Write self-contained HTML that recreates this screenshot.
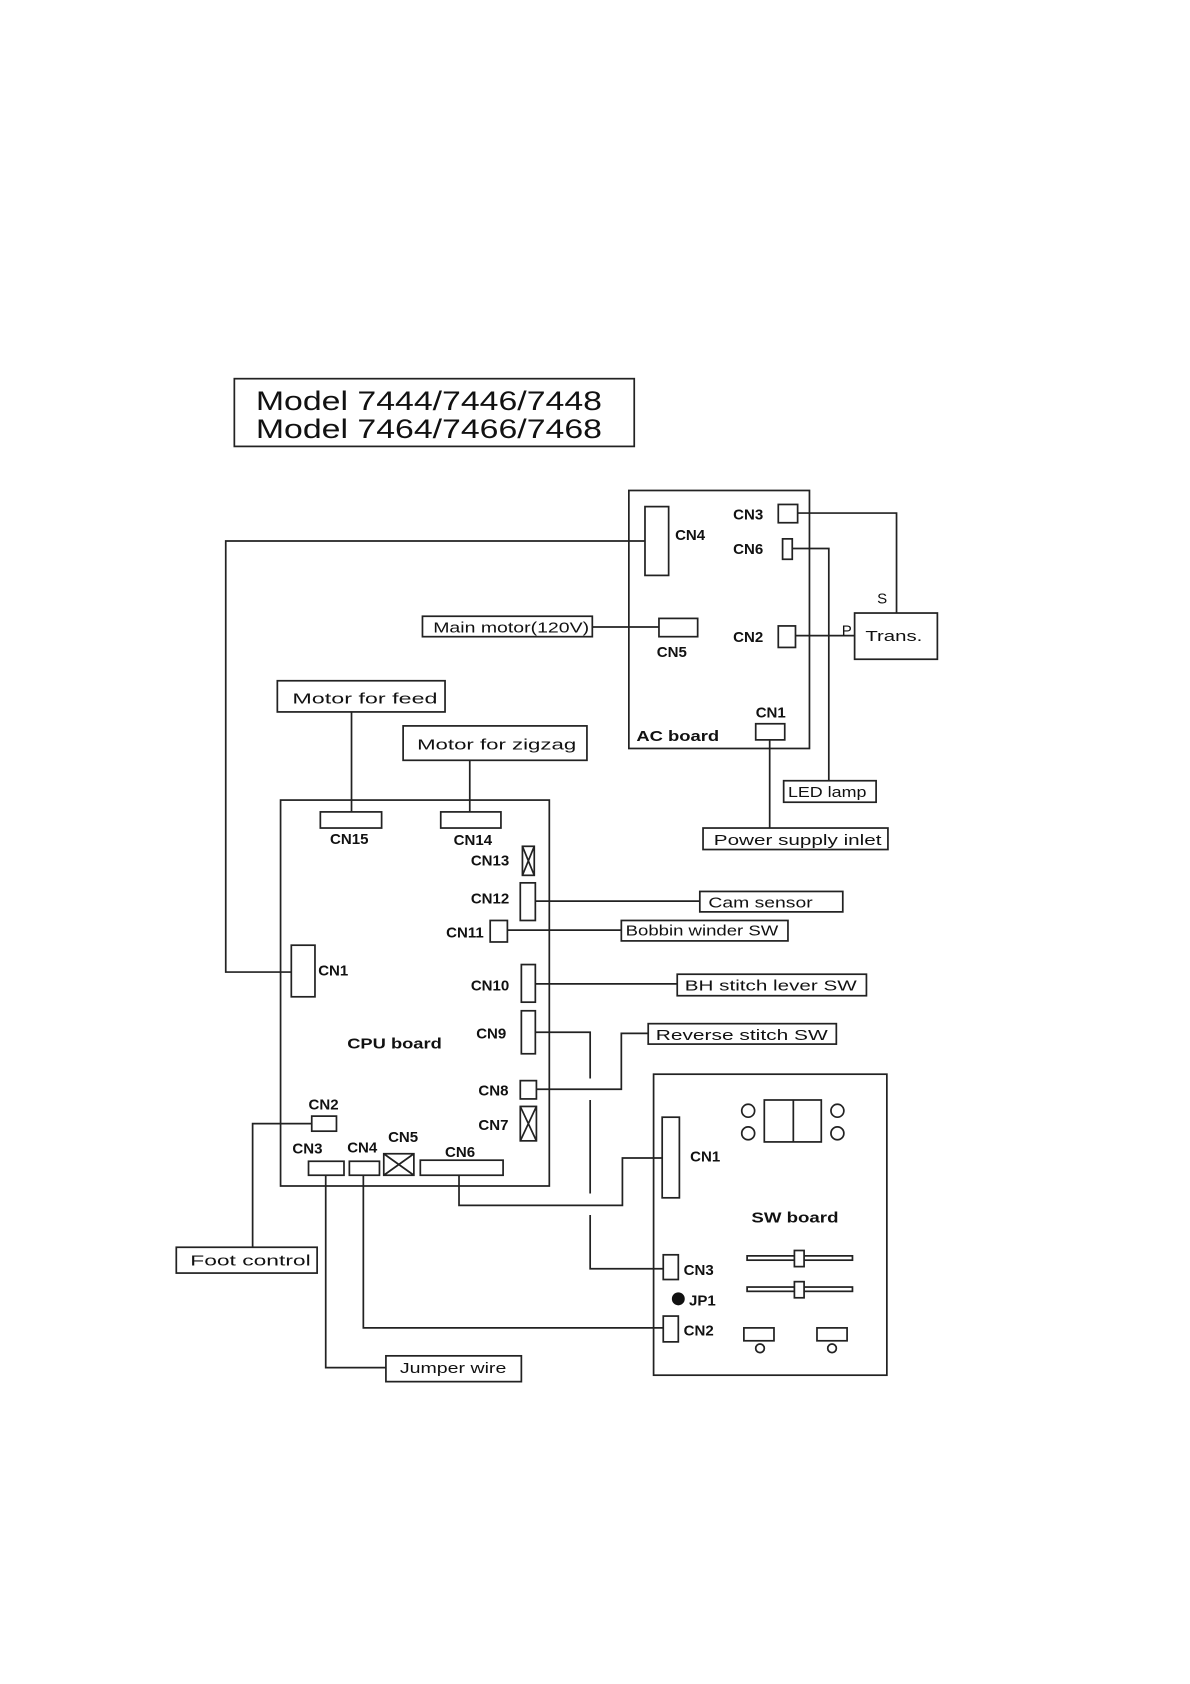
<!DOCTYPE html>
<html><head><meta charset="utf-8"><style>
html,body{margin:0;padding:0;background:#fff}
svg{display:block}
text{font-family:"Liberation Sans",sans-serif;fill:#111}
.b{font-weight:bold;font-size:14px}
.n{font-size:14px}
</style></head><body>
<svg width="1190" height="1684" viewBox="0 0 1107 1566" xmlns="http://www.w3.org/2000/svg">
<g fill="none" stroke="#222" stroke-width="1.6">
<rect x="218" y="352" width="372" height="63"/>
<rect x="585" y="456" width="168" height="240"/>
<rect x="600" y="471" width="22" height="64"/>
<rect x="724" y="469" width="18" height="17"/>
<polyline points="742,477 834,477 834,570"/>
<rect x="728" y="501" width="9" height="19"/>
<polyline points="737,510 771,510 771,726"/>
<rect x="724" y="582" width="16" height="20"/>
<line x1="740" y1="591" x2="795" y2="591"/>
<rect x="795" y="570" width="77" height="43"/>
<rect x="613" y="575" width="36" height="17"/>
<line x1="551" y1="583" x2="613" y2="583"/>
<rect x="393" y="573" width="158" height="19"/>
<rect x="703" y="673" width="27" height="15"/>
<line x1="716" y1="688" x2="716" y2="770"/>
<rect x="729" y="726" width="86" height="20"/>
<rect x="654" y="770" width="172" height="20"/>
<polyline points="600,503 210,503 210,904 271,904"/>
<rect x="258" y="633" width="156" height="29"/>
<line x1="327" y1="662" x2="327" y2="755"/>
<rect x="375" y="675" width="171" height="32"/>
<line x1="437" y1="707" x2="437" y2="755"/>
<rect x="261" y="744" width="250" height="359"/>
<rect x="298" y="755" width="57" height="15"/>
<rect x="410" y="755" width="56" height="15"/>
<rect x="486" y="787" width="11" height="27"/>
<path d="M486,787 L497,814 M497,787 L486,814"/>
<rect x="484" y="821" width="14" height="35"/>
<line x1="498" y1="838" x2="651" y2="838"/>
<rect x="651" y="829" width="133" height="19"/>
<rect x="456" y="856" width="16" height="20"/>
<line x1="472" y1="865" x2="578" y2="865"/>
<rect x="578" y="856" width="155" height="19"/>
<rect x="271" y="879" width="22" height="48"/>
<rect x="485" y="897" width="13" height="35"/>
<line x1="498" y1="915" x2="630" y2="915"/>
<rect x="630" y="906" width="176" height="20"/>
<rect x="485" y="940" width="13" height="40"/>
<polyline points="498,960 549,960 549,1003"/>
<line x1="549" y1="1023" x2="549" y2="1110"/>
<polyline points="549,1130 549,1180 617,1180"/>
<rect x="484" y="1005" width="15" height="17"/>
<polyline points="499,1013 578,1013 578,961 603,961"/>
<rect x="603" y="952" width="175" height="19"/>
<rect x="484" y="1029" width="15" height="32"/>
<path d="M484,1029 L499,1061 M499,1029 L484,1061"/>
<rect x="290" y="1038" width="23" height="14"/>
<polyline points="290,1045 235,1045 235,1160"/>
<rect x="164" y="1160" width="131" height="24"/>
<rect x="287" y="1080" width="33" height="13"/>
<polyline points="303,1093 303,1272 359,1272"/>
<rect x="359" y="1261" width="126" height="24"/>
<rect x="325" y="1080" width="28" height="13"/>
<polyline points="338,1093 338,1235 617,1235"/>
<rect x="357" y="1073" width="28" height="20"/>
<path d="M357,1073 L385,1093 M385,1073 L357,1093"/>
<rect x="391" y="1079" width="77" height="14"/>
<polyline points="427,1093 427,1121 579,1121 579,1077 616,1077"/>
<rect x="608" y="999" width="217" height="280"/>
<rect x="616" y="1039" width="16" height="75"/>
<rect x="711" y="1023" width="53" height="39"/>
<line x1="738" y1="1023" x2="738" y2="1062"/>
<circle cx="696" cy="1033" r="6"/><circle cx="696" cy="1054" r="6"/>
<circle cx="779" cy="1033" r="6"/><circle cx="779" cy="1054" r="6"/>
<rect x="695" y="1168" width="98" height="4"/>
<rect x="739" y="1163" width="9" height="15" fill="#fff"/>
<rect x="695" y="1197" width="98" height="4"/>
<rect x="739" y="1192" width="9" height="15" fill="#fff"/>
<rect x="617" y="1167" width="14" height="23"/>
<rect x="617" y="1224" width="14" height="24"/>
<rect x="692" y="1235" width="28" height="12"/>
<circle cx="707" cy="1254" r="4"/>
<rect x="760" y="1235" width="28" height="12"/>
<circle cx="774" cy="1254" r="4"/>
</g>
<circle cx="631" cy="1208" r="6" fill="#111"/>
<text x="238" y="381" font-size="25" textLength="322" lengthAdjust="spacingAndGlyphs">Model 7444/7446/7448</text>
<text x="238" y="407" font-size="25" textLength="322" lengthAdjust="spacingAndGlyphs">Model 7464/7466/7468</text>
<text class="b" x="628" y="502">CN4</text>
<text class="b" x="682" y="483">CN3</text>
<text class="b" x="682" y="515">CN6</text>
<text class="b" x="682" y="597">CN2</text>
<text class="n" x="816" y="561">S</text>
<text class="n" x="783" y="591">P</text>
<text class="n" x="805" y="596" textLength="53" lengthAdjust="spacingAndGlyphs">Trans.</text>
<text class="b" x="611" y="611">CN5</text>
<text class="n" x="403" y="588" textLength="145" lengthAdjust="spacingAndGlyphs">Main motor(120V)</text>
<text class="b" x="703" y="667">CN1</text>
<text class="b" x="592" y="689" textLength="77" lengthAdjust="spacingAndGlyphs">AC board</text>
<text class="n" x="733" y="741" textLength="73" lengthAdjust="spacingAndGlyphs">LED lamp</text>
<text class="n" x="664" y="786" textLength="156" lengthAdjust="spacingAndGlyphs">Power supply inlet</text>
<text class="n" x="272" y="654" textLength="135" lengthAdjust="spacingAndGlyphs">Motor for feed</text>
<text class="n" x="388" y="697" textLength="148" lengthAdjust="spacingAndGlyphs">Motor for zigzag</text>
<text class="b" x="307" y="785">CN15</text>
<text class="b" x="422" y="786">CN14</text>
<text class="b" x="438" y="805">CN13</text>
<text class="b" x="438" y="840">CN12</text>
<text class="n" x="659" y="844" textLength="97" lengthAdjust="spacingAndGlyphs">Cam sensor</text>
<text class="b" x="415" y="872">CN11</text>
<text class="n" x="582" y="870" textLength="142" lengthAdjust="spacingAndGlyphs">Bobbin winder SW</text>
<text class="b" x="296" y="907">CN1</text>
<text class="b" x="438" y="921">CN10</text>
<text class="n" x="637" y="921" textLength="160" lengthAdjust="spacingAndGlyphs">BH stitch lever SW</text>
<text class="b" x="443" y="966">CN9</text>
<text class="b" x="323" y="975" textLength="88" lengthAdjust="spacingAndGlyphs">CPU board</text>
<text class="n" x="610" y="967" textLength="160" lengthAdjust="spacingAndGlyphs">Reverse stitch SW</text>
<text class="b" x="445" y="1019">CN8</text>
<text class="b" x="445" y="1051">CN7</text>
<text class="b" x="287" y="1032">CN2</text>
<text class="n" x="177" y="1177" textLength="112" lengthAdjust="spacingAndGlyphs">Foot control</text>
<text class="b" x="272" y="1073">CN3</text>
<text class="b" x="323" y="1072">CN4</text>
<text class="b" x="361" y="1062">CN5</text>
<text class="b" x="414" y="1076">CN6</text>
<text class="n" x="372" y="1277" textLength="99" lengthAdjust="spacingAndGlyphs">Jumper wire</text>
<text class="b" x="642" y="1080">CN1</text>
<text class="b" x="699" y="1137" textLength="81" lengthAdjust="spacingAndGlyphs">SW board</text>
<text class="b" x="636" y="1186">CN3</text>
<text class="b" x="641" y="1214">JP1</text>
<text class="b" x="636" y="1242">CN2</text>
</svg>
</body></html>
